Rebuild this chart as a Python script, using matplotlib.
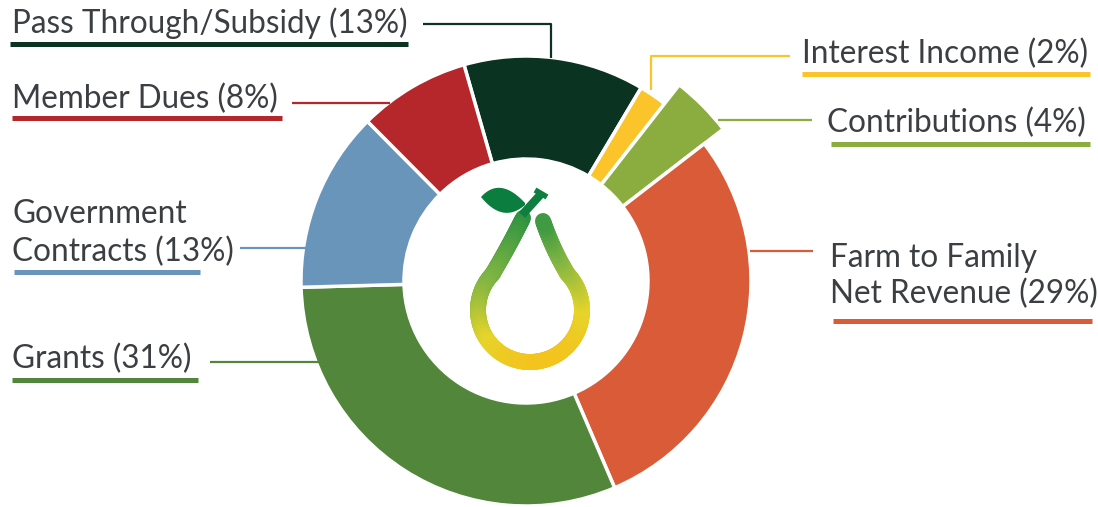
import numpy as np
import matplotlib.pyplot as plt
from matplotlib.collections import LineCollection
from matplotlib.colors import LinearSegmentedColormap
from matplotlib.patches import Polygon

plt.rcParams['font.family'] = ['Lato', 'DejaVu Sans']

# data
names = ['Pass Through/Subsidy', 'Interest Income', 'Contributions',
         'Farm to Family\nNet Revenue', 'Grants', 'Government\nContracts', 'Member Dues']
shares = [13, 2, 4, 29, 31, 13, 8]
colors = ['#0b3321', '#fcc42b', '#8bad3f', '#d95b38', '#52863a', '#6995bb', '#b5272b']

W, H = 1098, 507
fig = plt.figure(figsize=(W / 100, H / 100), dpi=100)
ax = fig.add_axes([0, 0, 1, 1])


def Y(y):
    # pixel row -> data y
    return H - y


cx, cy, R, hole = 526, 281, 225, 122
wedges, _ = ax.pie(shares, colors=colors, startangle=106, counterclock=False,
                   radius=R, center=(cx, Y(cy)),
                   wedgeprops=dict(width=R - hole, edgecolor='white', linewidth=2.5))
# contributions slice sticks out a bit
wedges[2].set_radius(249)
wedges[2].set_width(249 - hole)

# label layout: text lines (x, baseline), leader line, underline
layout = [
    dict(x=12, base=[33], lead=[(423, 24), (551, 24), (551, 58)], ul=(10, 408, 44)),
    dict(x=802, base=[63], lead=[(651, 90), (651, 56), (790, 56)], ul=(802, 1090, 74)),
    dict(x=827, base=[132], lead=[(718, 120), (812, 120)], ul=(831, 1090, 144)),
    dict(x=830, base=[267, 303], lead=[(750, 251), (813, 251)], ul=(833, 1092, 321)),
    dict(x=12, base=[368], lead=[(210, 362), (320, 362)], ul=(12, 198, 380)),
    dict(x=12, base=[223, 261], lead=[(240, 248), (306, 248)], ul=(14, 200, 272)),
    dict(x=12, base=[108], lead=[(292, 103), (390, 103)], ul=(12, 282, 118)),
]

txt_color = '#3b3f42'
for name, pct, col, lay in zip(names, shares, colors, layout):
    lines = f'{name} ({pct}%)'.split('\n')
    for line, b in zip(lines, lay['base']):
        ax.text(lay['x'], Y(b), line, fontsize=22.7, color=txt_color,
                ha='left', va='baseline')
    px, py = zip(*lay['lead'])
    ax.plot(px, [Y(v) for v in py], color=col, lw=1.6, solid_capstyle='butt')
    x0, x1, uy = lay['ul']
    ax.plot([x0, x1], [Y(uy), Y(uy)], color=col, lw=3.6, solid_capstyle='butt')


# pear logo in the hole
def bez(p0, p1, p2, n=40):
    s = np.linspace(0, 1, n)[:, None]
    p0, p1, p2 = map(np.array, (p0, p1, p2))
    return (1 - s) ** 2 * p0 + 2 * (1 - s) * s * p1 + s ** 2 * p2


a = np.radians(np.linspace(135, 405, 200))
ring = np.column_stack([530 + 52 * np.cos(a), 310 - 52 * np.sin(a)])
left = bez((523, 218), (508, 248), (493, 273))
right = bez((567, 273), (553, 250), (543, 221))
pts = np.vstack([left, ring, right])

shade = np.clip((pts[:, 1] - 225) / 150 * 0.8 + (pts[:, 0] - 470) / 120 * 0.25, 0, 1)
cmap = LinearSegmentedColormap.from_list('pear', ['#138740', '#7db443', '#e6d52b', '#fbb916'])
seg = np.stack([pts[:-1], pts[1:]], axis=1)
seg[:, :, 1] = H - seg[:, :, 1]
lc = LineCollection(seg, colors=cmap(shade[:-1]), linewidths=11.5, capstyle='round')
ax.add_collection(lc)

leaf = np.vstack([bez((481, 197), (500, 176), (525, 203)),
                  bez((525, 205), (503, 224), (481, 197))])
ax.add_patch(Polygon(np.column_stack([leaf[:, 0], H - leaf[:, 1]]),
                     closed=True, color='#0b7d3e', lw=0))
ax.plot([522, 541], [Y(215), Y(194)], color='#0f7f3f', lw=6, solid_capstyle='butt')
ax.plot([535, 547], [Y(190), Y(197)], color='#0f7f3f', lw=4, solid_capstyle='butt')

ax.set_xlim(0, W)
ax.set_ylim(0, H)
ax.set_aspect('equal')
ax.set_axis_off()

plt.savefig('out.png', dpi=100)
